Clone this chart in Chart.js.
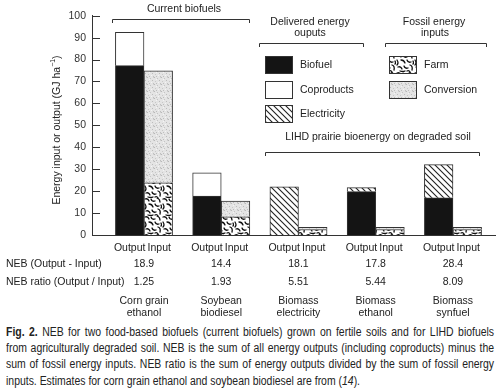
<!DOCTYPE html>
<html>
<head>
<meta charset="utf-8">
<script src="https://cdn.jsdelivr.net/npm/chart.js@4.4.1/dist/chart.umd.min.js"></script>
<style>
body { margin: 0; background: #fff; width: 500px; height: 388px; overflow: hidden; position: relative; font-family: 'Liberation Sans', Arial, sans-serif; }
#neb { position: absolute; left: 0; top: 0; }
#cap { position: absolute; left: 6px; top: 324px; width: 561px; font-size: 12px; line-height: 16.2px; color: #222; transform: scaleX(0.87); transform-origin: 0 0; }
#cap div { white-space: nowrap; text-align: justify; text-align-last: justify; }
#cap div.last { text-align-last: left; }
</style>
</head>
<body>
<canvas id="neb" width="500" height="322"></canvas>
<div id="cap">
<div><b>Fig. 2.</b> NEB for two food-based biofuels (current biofuels) grown on fertile soils and for LIHD biofuels</div>
<div>from agriculturally degraded soil. NEB is the sum of all energy outputs (including coproducts) minus the</div>
<div>sum of fossil energy inputs. NEB ratio is the sum of energy outputs divided by the sum of fossil energy</div>
<div class="last">inputs. Estimates for corn grain ethanol and soybean biodiesel are from (<i>14</i>).</div>
</div>
<script>
// NEB of biofuels - outputs vs fossil inputs (GJ/ha)

var fuelNames = [
	['Corn grain', 'ethanol'],
	['Soybean', 'biodiesel'],
	['Biomass', 'electricity'],
	['Biomass', 'ethanol'],
	['Biomass', 'synfuel'],
];
var biofuelOut = [77.2, 17.8, 0, 19.8, 17.0];
var coproductsOut = [15.2, 10.6, 0, 0, 0];
var electricityOut = [0, 0, 22.0, 1.8, 15.1];
var farmIn = [23.8, 8.3, 2.5, 2.5, 2.5];
var conversionIn = [51.1, 7.2, 1.0, 1.0, 1.0];
var nebValues = ['18.9', '14.4', '18.1', '17.8', '28.4'];
var nebRatios = ['1.25', '1.93', '5.51', '5.44', '8.09'];
var yMax = 100;
var yStep = 10;

var FONT = '"Liberation Sans", Arial, sans-serif';
var BAR = 28.6;

function toPoints(arr) {
	return arr.map(function(v, i) { return { x: i, y: v ? v : null }; });
}

function tile(w, h, draw) {
	var c = document.createElement('canvas');
	c.width = w; c.height = h;
	var g = c.getContext('2d');
	draw(g);
	return g.createPattern(c, 'repeat');
}

var hatch = tile(6, 6, function(g) {
	g.fillStyle = '#fff'; g.fillRect(0, 0, 6, 6);
	g.strokeStyle = '#222'; g.lineWidth = 1.1;
	g.beginPath();
	g.moveTo(-1, -1); g.lineTo(7, 7);
	g.moveTo(-1, 5); g.lineTo(1, 7);
	g.moveTo(5, -1); g.lineTo(7, 1);
	g.stroke();
});

// wormy texture for farm inputs
var farmFill = tile(18, 18, function(g) {
	g.fillStyle = '#fff'; g.fillRect(0, 0, 18, 18);
	g.strokeStyle = '#111'; g.lineWidth = 1.3; g.lineCap = 'round';
	var worms = [
		[1, 1, 4, 0, 5, 3], [7, 1, 8, 4, 11, 3], [13, 0, 16, 1, 16, 4],
		[1, 6, 3, 9, 1, 11], [5, 6, 8, 6, 9, 9], [11, 6, 12, 9, 15, 8],
		[2, 13, 5, 12, 6, 15], [8, 12, 9, 15, 12, 14], [14, 11, 17, 12, 16, 16],
		[4, 17, 7, 18, 9, 17], [11, 17, 13, 16, 14, 18], [17, 7, 18, 9, 17, 10]
	];
	worms.forEach(function(w) {
		g.beginPath(); g.moveTo(w[0], w[1]); g.quadraticCurveTo(w[2], w[3], w[4], w[5]); g.stroke();
	});
});

var convFill = tile(7, 7, function(g) {
	g.fillStyle = '#e4e4e4'; g.fillRect(0, 0, 7, 7);
	var dots = [[0, 0, '#b8b8b8'], [3, 1, '#c4c4c4'], [5, 3, '#bcbcbc'], [1, 4, '#c8c8c8'],
		[6, 6, '#c0c0c0'], [4, 5, '#f4f4f4'], [2, 2, '#f4f4f4'], [6, 0, '#d0d0d0'], [2, 6, '#bdbdbd']];
	dots.forEach(function(d) { g.fillStyle = d[2]; g.fillRect(d[0], d[1], 1, 1); });
});

var legendItems = [
	{ text: 'Biofuel', fill: '#141414', x: 265, y: 56 },
	{ text: 'Coproducts', fill: '#fff', x: 265, y: 81 },
	{ text: 'Electricity', fill: hatch, x: 265, y: 105 },
	{ text: 'Farm', fill: farmFill, x: 389, y: 56 },
	{ text: 'Conversion', fill: convFill, x: 389, y: 81 },
];

function line(ctx, x1, y1, x2, y2) {
	ctx.beginPath(); ctx.moveTo(x1, y1); ctx.lineTo(x2, y2); ctx.stroke();
}
function txt(ctx, s, x, y, align) {
	ctx.textAlign = align || 'center';
	ctx.fillText(s, x, y);
}
function bracket(ctx, x1, x2, y) {
	ctx.beginPath();
	ctx.moveTo(x1 + 0.5, y + 4); ctx.lineTo(x1 + 0.5, y + 0.5);
	ctx.lineTo(x2 + 0.5, y + 0.5); ctx.lineTo(x2 + 0.5, y + 4);
	ctx.stroke();
}

var annotate = {
	id: 'annotate',
	afterDraw: function(chart) {
		var ctx = chart.ctx, xs = chart.scales.x, ys = chart.scales.y, area = chart.chartArea;
		ctx.save();
		ctx.strokeStyle = '#333';
		ctx.lineWidth = 1;
		ctx.fillStyle = '#222';
		ctx.textBaseline = 'middle';

		// inward tick marks on y axis
		ys.ticks.forEach(function(t) {
			var py = Math.round(ys.getPixelForValue(t.value)) + 0.5;
			line(ctx, area.left, py, area.left + 8, py);
		});

		// y axis title
		ctx.save();
		ctx.translate(57, 130);
		ctx.rotate(-Math.PI / 2);
		ctx.font = '10.5px ' + FONT;
		var a = 'Energy input or output (GJ ha', b = '\u22121', c = ')';
		var wa = ctx.measureText(a).width, wc = ctx.measureText(c).width;
		ctx.font = '7px ' + FONT;
		var wb = ctx.measureText(b).width;
		var x0 = -(wa + wb + wc) / 2;
		ctx.font = '10.5px ' + FONT;
		txt(ctx, a, x0, 0, 'left');
		ctx.font = '7px ' + FONT;
		txt(ctx, b, x0 + wa, -4, 'left');
		ctx.font = '10.5px ' + FONT;
		txt(ctx, c, x0 + wa + wb, 0, 'left');
		ctx.restore();

		ctx.font = '10.5px ' + FONT;
		// group headings and brackets
		txt(ctx, 'Current biofuels', 184, 9);
		bracket(ctx, Math.round(xs.getPixelForValue(-0.414)), Math.round(xs.getPixelForValue(1.359)), 19);
		txt(ctx, 'Delivered energy', 310, 22);
		txt(ctx, 'ouputs', 310, 33);
		bracket(ctx, 259, 363, 43);
		txt(ctx, 'Fossil energy', 434, 22);
		txt(ctx, 'inputs', 435, 33);
		bracket(ctx, 385, 486, 43);
		txt(ctx, 'LIHD prairie bioenergy on degraded soil', 378, 137);
		bracket(ctx, Math.round(xs.getPixelForValue(1.566)), Math.round(xs.getPixelForValue(4.337)), 152);

		// legend
		legendItems.forEach(function(it) {
			ctx.fillStyle = it.fill;
			ctx.fillRect(it.x, it.y, 27, 17);
			ctx.strokeRect(it.x + 0.5, it.y + 0.5, 27, 17);
			ctx.fillStyle = '#222';
			txt(ctx, it.text, it.x + 35, it.y + 9, 'left');
		});

		// rows under the bars
		fuelNames.forEach(function(name, i) {
			var cx = xs.getPixelForValue(i);
			txt(ctx, 'Output', cx - BAR / 2, 248);
			txt(ctx, 'Input', cx + BAR / 2 + 1, 248);
			txt(ctx, nebValues[i], cx, 264.5);
			txt(ctx, nebRatios[i], cx, 282.5);
			txt(ctx, name[0], cx, 301);
			txt(ctx, name[1], cx, 313);
		});
		txt(ctx, 'NEB (Output - Input)', 6, 264.5, 'left');
		txt(ctx, 'NEB ratio (Output / Input)', 6, 282.5, 'left');
		ctx.restore();
	}
};

window.addEventListener('load', function() {
	var ctx = document.getElementById('neb').getContext('2d');
	var common = { borderColor: '#333', borderWidth: 1, barThickness: BAR };
	new Chart(ctx, {
		type: 'bar',
		data: {
			datasets: [
				Object.assign({ label: 'Biofuel', data: toPoints(biofuelOut), stack: 'output', backgroundColor: '#141414' }, common),
				Object.assign({ label: 'Coproducts', data: toPoints(coproductsOut), stack: 'output', backgroundColor: '#fff' }, common),
				Object.assign({ label: 'Electricity', data: toPoints(electricityOut), stack: 'output', backgroundColor: hatch }, common),
				Object.assign({ label: 'Farm', data: toPoints(farmIn), stack: 'input', backgroundColor: farmFill }, common),
				Object.assign({ label: 'Conversion', data: toPoints(conversionIn), stack: 'input', backgroundColor: convFill }, common),
			]
		},
		options: {
			responsive: false,
			animation: false,
			layout: { padding: { top: 15.7, right: 5, bottom: 87, left: 0 } },
			plugins: {
				legend: { display: false },
				tooltip: { enabled: false },
			},
			scales: {
				x: {
					type: 'linear',
					offset: false,
					min: -0.673,
					max: 4.544,
					grid: { display: false, offset: false },
					border: { color: '#333' },
					ticks: { display: false, stepSize: 1, includeBounds: false },
					afterFit: function(s) { s.height = 0; },
				},
				y: {
					stacked: true,
					min: 0,
					max: yMax,
					grid: { display: false, drawTicks: false },
					border: { color: '#333' },
					ticks: { stepSize: yStep, padding: 6, color: '#333', font: { size: 10.5, family: FONT } },
					afterFit: function(s) { s.width = 92; },
				}
			}
		},
		plugins: [annotate]
	});
});
</script>
</body>
</html>
